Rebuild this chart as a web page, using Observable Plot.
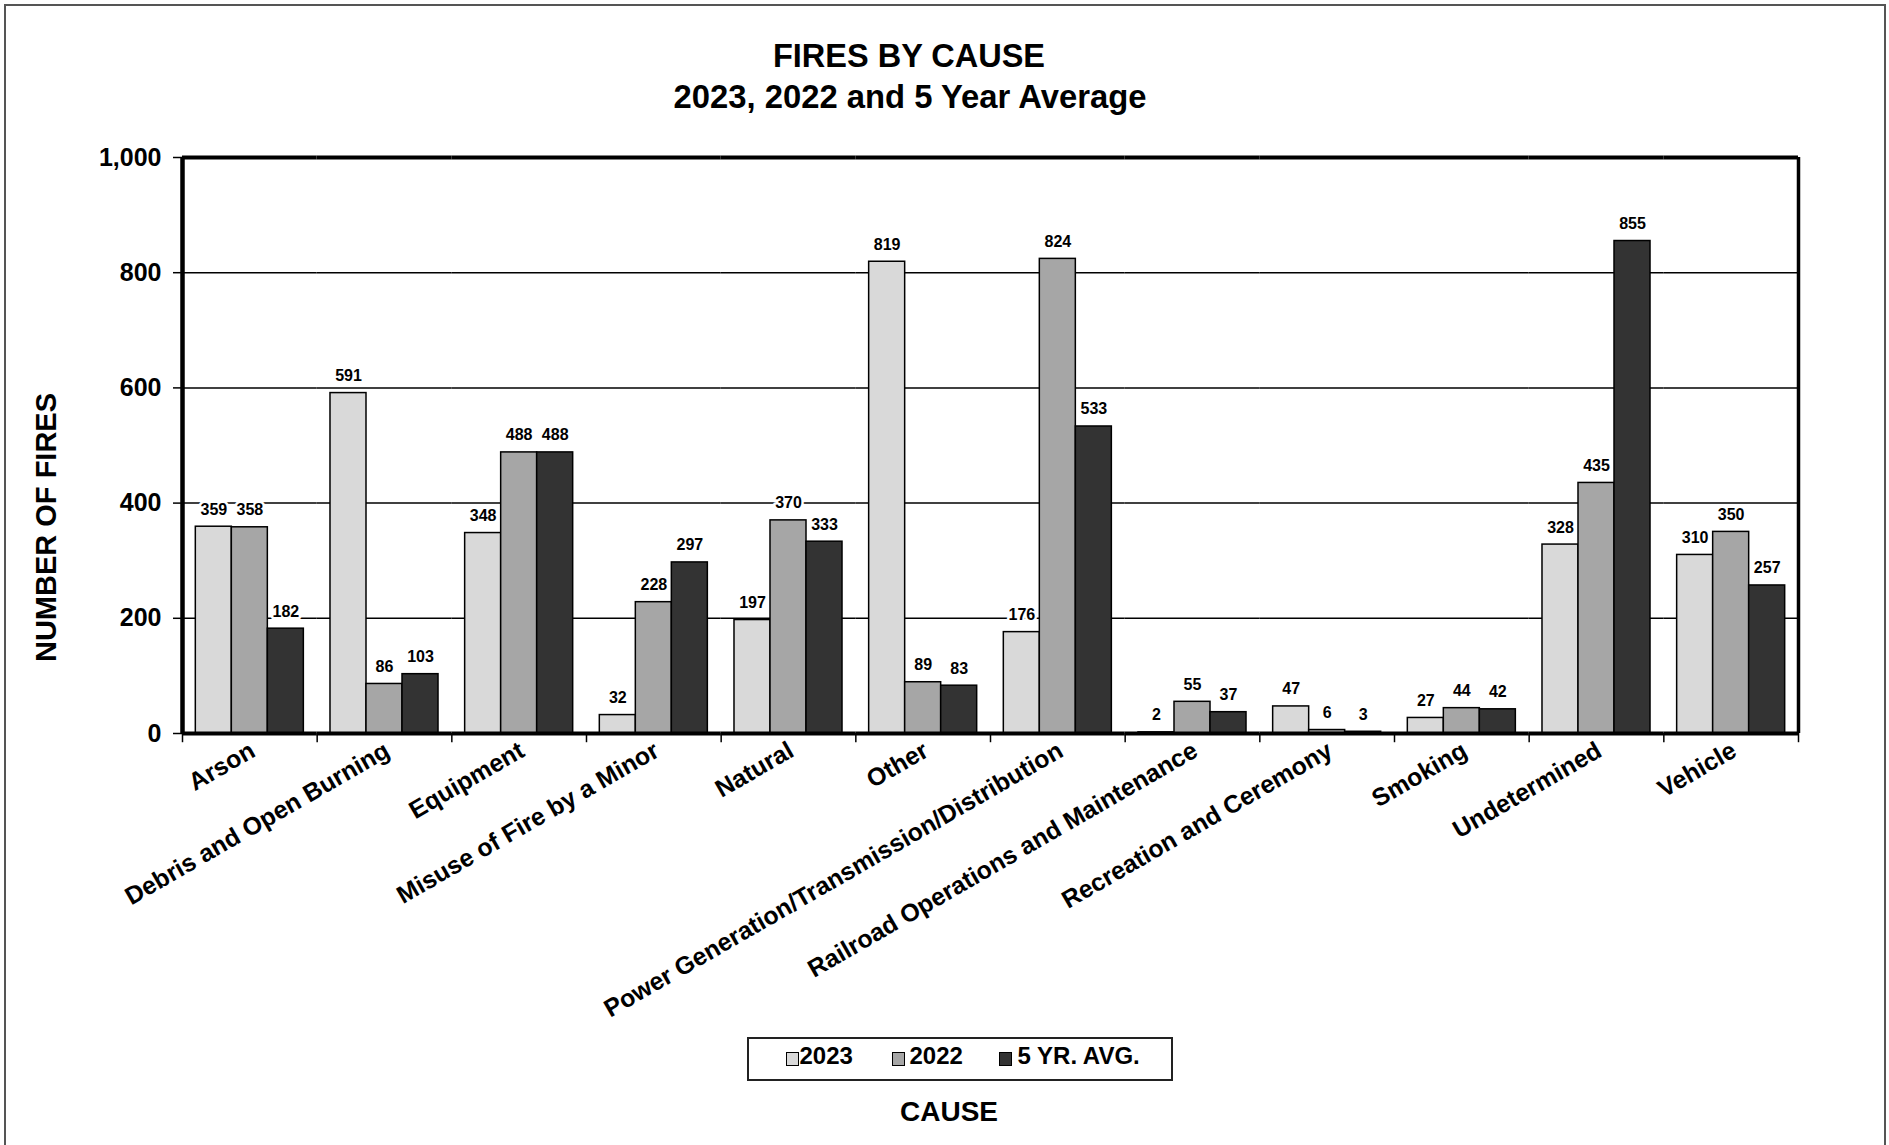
<!DOCTYPE html>
<html><head><meta charset="utf-8">
<script src="https://cdn.jsdelivr.net/npm/d3@7"></script>
<script src="https://cdn.jsdelivr.net/npm/@observablehq/plot@0.6"></script>
<style>
html,body{margin:0;padding:0;background:#fff;overflow:hidden}
body{width:1889px;height:1145px;position:relative;font-family:"Liberation Sans",Arial,Helvetica,sans-serif;color:#000}
#border{position:absolute;left:4px;top:4px;width:1882px;height:1160px;border:2px solid #555;box-sizing:border-box}
.t{position:absolute;left:0;text-align:center;font-weight:bold;line-height:1;white-space:nowrap}
#chart{position:absolute;left:0;top:130px}
#legend{position:absolute;left:747px;top:1037px;width:426px;height:44px;border:2.5px solid #222;box-sizing:border-box;background:#fff}
.sw{position:absolute;width:13px;height:14px;border:1.5px solid #000;box-sizing:border-box}
.lt{position:absolute;font-size:24px;font-weight:bold;line-height:1;white-space:nowrap}
</style></head><body>
<div id="border"></div>
<div class="t" style="top:39.8px;width:1818px;font-size:32.5px">FIRES BY CAUSE</div>
<div class="t" style="top:80.5px;width:1820px;font-size:32.8px">2023, 2022 and 5 Year Average</div>
<div id="chart"></div>
<div id="legend"></div>
<div class="t" style="top:1098px;width:1898px;font-size:28px">CAUSE</div>
<script>
const causes = ["Arson","Debris and Open Burning","Equipment","Misuse of Fire by a Minor","Natural","Other","Power Generation/Transmission/Distribution","Railroad Operations and Maintenance","Recreation and Ceremony","Smoking","Undetermined","Vehicle"];
const seriesNames = ["2023","2022","5 YR. AVG."];
const seriesColors = ["#d9d9d9","#a6a6a6","#333333"];
const values2023 = [359,591,348,32,197,819,176,2,47,27,328,310];
const values2022 = [358,86,488,228,370,89,824,55,6,44,435,350];
const valuesAvg  = [182,103,488,297,333,83,533,37,3,42,855,257];
const yTicks = [0,200,400,600,800,1000];
const gridValues = [200,400,600,800];
const yLabel = "NUMBER OF FIRES";

const W = 1889, H = 900, mL = 182, mR = 91, mT = 27, mB = 297;
const po = 0.37;
const fw = (W - mL - mR) / causes.length;
const step = fw / (seriesNames.length + 2 * po);
const edge = po * step + step / 2;

const seriesValues = [values2023, values2022, valuesAvg];
const rows = causes.flatMap((cause, i) => seriesValues.map((vals, j) => ({cause, series: seriesNames[j], value: vals[i]})));
const first = [{cause: causes[0], series: seriesNames[0]}];
const last = [{cause: causes[causes.length - 1], series: seriesNames[seriesNames.length - 1]}];
const lefts = causes.map(c => ({cause: c, series: seriesNames[0]}));

const font = '"Liberation Sans", Arial, Helvetica, sans-serif';
const chart = Plot.plot({
  width: W, height: H, marginLeft: mL, marginRight: mR, marginTop: mT, marginBottom: mB,
  style: {background: "transparent", color: "black", fontFamily: font, overflow: "visible"},
  fx: {domain: causes, padding: 0, round: false},
  x: {domain: seriesNames, paddingInner: 0, paddingOuter: po, round: false, axis: null},
  y: {domain: [0, 1000]},
  color: {domain: seriesNames, range: seriesColors},
  marks: [
    Plot.ruleY(gridValues, {stroke: "black", strokeWidth: 1.5}),
    Plot.barY(rows, {fx: "cause", x: "series", y: "value", fill: "series", stroke: "black", strokeWidth: 1.5}),
    Plot.ruleY([0], {stroke: "black", strokeWidth: 4}),
    Plot.ruleY([1000], {stroke: "black", strokeWidth: 4}),
    Plot.ruleX(first, {fx: "cause", x: "series", dx: -edge, stroke: "black", strokeWidth: 4.5}),
    Plot.ruleX(last, {fx: "cause", x: "series", dx: edge, stroke: "black", strokeWidth: 3.5}),
    Plot.ruleX(lefts, {fx: "cause", x: "series", dx: -edge, y1: 0, y2: -16, stroke: "black", strokeWidth: 1.5}),
    Plot.ruleX(last, {fx: "cause", x: "series", dx: edge, y1: 0, y2: -16, stroke: "black", strokeWidth: 1.5}),
    Plot.text(rows, {fx: "cause", x: "series", y: "value", text: d => String(d.value), dy: -12, lineAnchor: "bottom",
      fontSize: 16, fontWeight: "bold", fill: "black", stroke: "white", strokeWidth: 5, paintOrder: "stroke"}),
    Plot.axisY(yTicks, {tickFormat: d3.format(","), tickSize: 9, tickPadding: 12, fontSize: 25, fontWeight: "bold", stroke: "black", strokeWidth: 1.5, label: null}),
    Plot.axisFx({anchor: "bottom", tickRotate: -30, tickSize: 0, tickPadding: 15, dx: 3, fontSize: 24.8, fontWeight: "bold", label: null}),
    Plot.text([{cause: causes[0], t: yLabel}], {fx: "cause", text: "t", frameAnchor: "left", textAnchor: "middle", rotate: -90, dx: -136, dy: 82,
      fontSize: 29, fontWeight: "bold", fill: "black"})
  ]
});
document.getElementById("chart").appendChild(chart);

const legend = document.getElementById("legend");
const swX = [36.5, 142.5, 249.5], txX = [50.5, 160.5, 268.5];
seriesNames.forEach((s, i) => {
  const sw = document.createElement("div");
  sw.className = "sw";
  sw.style.left = swX[i] + "px"; sw.style.top = "12.5px"; sw.style.background = seriesColors[i];
  legend.appendChild(sw);
  const tx = document.createElement("div");
  tx.className = "lt";
  tx.style.left = txX[i] + "px"; tx.style.top = "5.2px";
  tx.textContent = s;
  legend.appendChild(tx);
});
</script>
</body></html>
